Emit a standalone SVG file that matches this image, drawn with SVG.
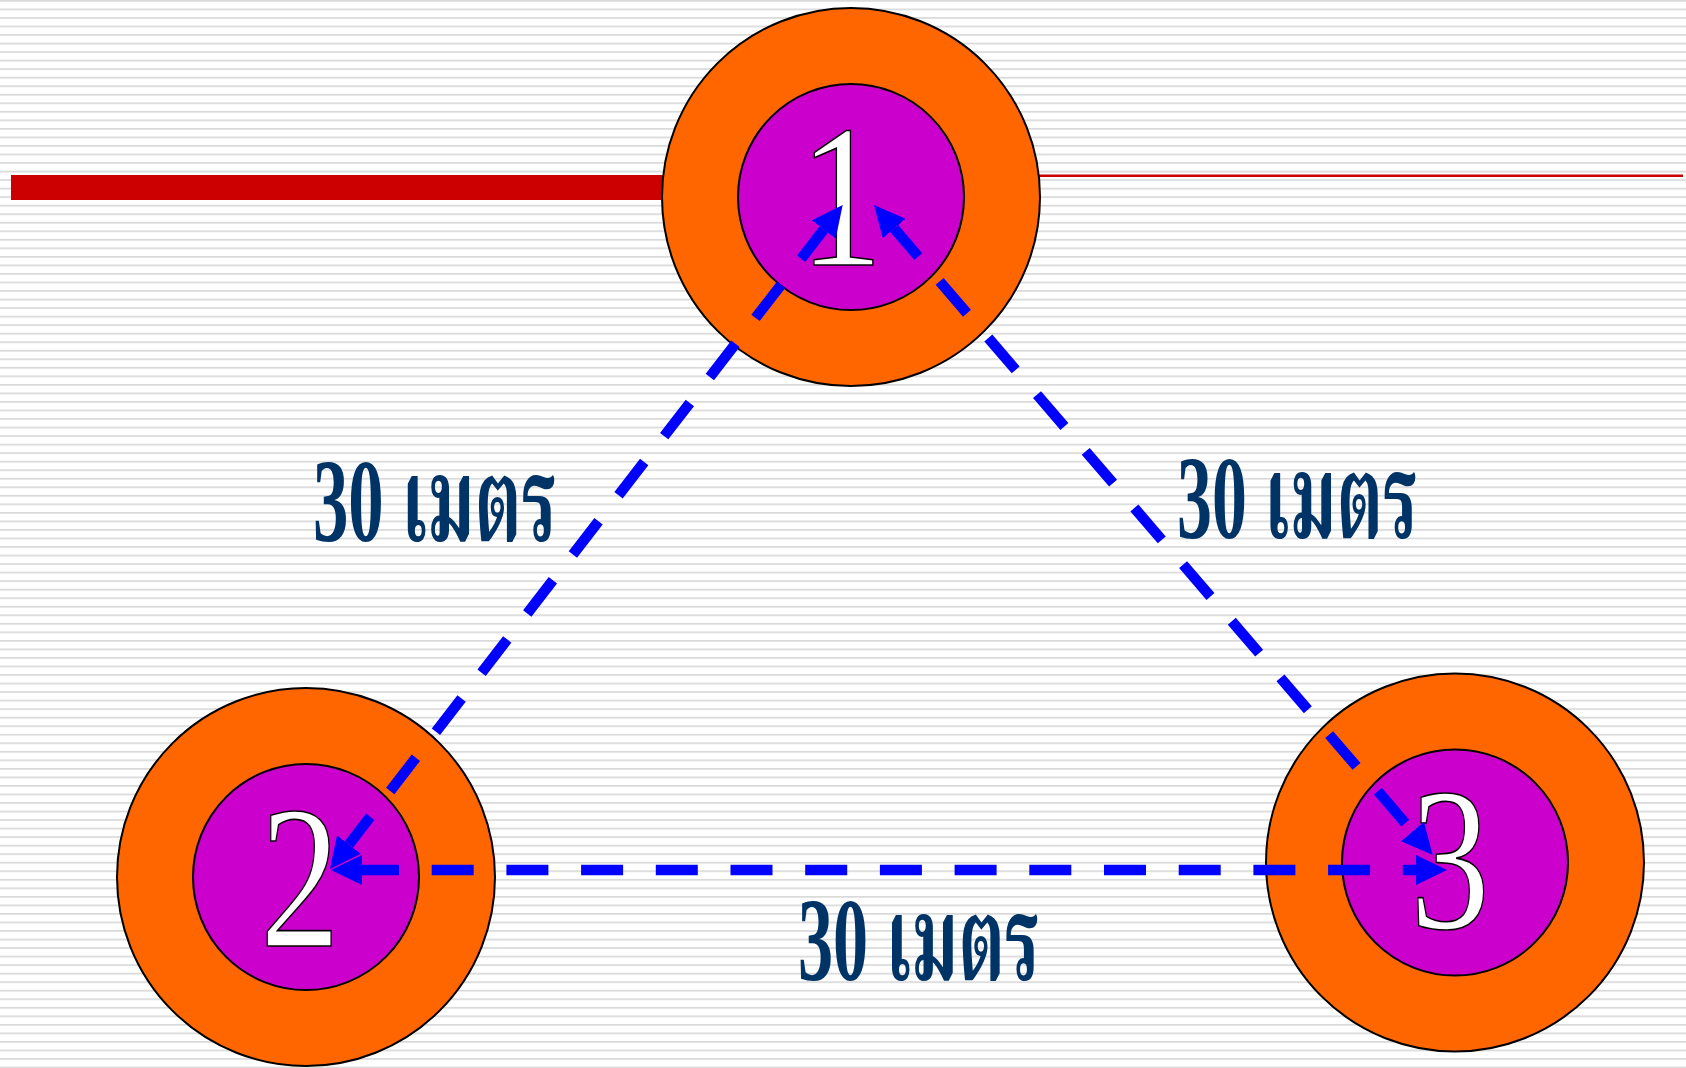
<svg xmlns="http://www.w3.org/2000/svg" width="1686" height="1068" viewBox="0 0 1686 1068">
  <defs>
    <pattern id="stripes" x="0" y="0" width="40" height="8.533" patternUnits="userSpaceOnUse">
      <rect x="0" y="0" width="40" height="1.7" fill="#d9d9d9"/>
    </pattern>
    <marker id="arrow" markerUnits="userSpaceOnUse" viewBox="0 0 31 30" markerWidth="31" markerHeight="30" refX="0" refY="15" orient="auto-start-reverse">
      <path d="M0,0 L31,15 L0,30 Z" fill="#0000ff"/>
    </marker>
  </defs>
  <style>
    .outer { fill: #ff6600; stroke: #000000; stroke-width: 2; }
    .inner { fill: #cc00cc; stroke: #000000; stroke-width: 2; }
    .num { font-family: "Times New Roman", "Liberation Serif", Tinos, serif; font-size: 204px; fill: #ffffff; stroke: #000000; stroke-width: 1.6; text-anchor: middle; }
    .conn { stroke: #0000ff; stroke-width: 10.5; fill: none; stroke-dasharray: 42 32.7; stroke-dashoffset: 5; stroke-linecap: butt; marker-start: url(#arrow); marker-end: url(#arrow); }
    .lbl { font-family: "Times New Roman", "Liberation Serif", Tinos, "Noto Serif Thai", "Noto Sans Thai", "Angsana New", "Tlwg Typo", "Norasi", "Loma", "Garuda", "Noto Sans", serif; font-weight: bold; font-size: 118px; fill: #003366; }
    .red { fill: #cc0000; }
  </style>
  <rect x="0" y="0" width="1686" height="1068" fill="#ffffff"/>
  <rect x="0" y="0" width="1686" height="1068" fill="url(#stripes)"/>
  <g id="title-bar">
    <rect class="red" x="11" y="175" width="660" height="25"/>
    <rect class="red" x="1030" y="174.5" width="653" height="2.5"/>
  </g>
  <g id="node-1">
    <circle class="outer" cx="851" cy="197" r="189"/>
    <circle class="inner" cx="851" cy="197" r="113"/>
    <text class="num" transform="translate(841 265) scale(0.82 1)" x="0" y="0">1</text>
  </g>
  <g id="node-2">
    <circle class="outer" cx="306" cy="877" r="189"/>
    <circle class="inner" cx="306" cy="877" r="113"/>
    <text class="num" transform="translate(300 946) scale(0.78 1)" x="0" y="0">2</text>
  </g>
  <g id="node-3">
    <circle class="outer" cx="1455" cy="862.5" r="189"/>
    <circle class="inner" cx="1455" cy="862.5" r="113"/>
    <text class="num" transform="translate(1450 928) scale(0.78 1)" x="0" y="0">3</text>
  </g>
  <g id="connectors">
    <line class="conn" x1="823.75" y1="229.5" x2="348.9" y2="844.5"/>
    <line class="conn" x1="894.2" y1="228.5" x2="1412.5" y2="831.5"/>
    <line class="conn" x1="362" y1="870" x2="1416" y2="870"/>
  </g>
  <g id="labels">
    <text class="lbl" x="313" y="541" textLength="244" lengthAdjust="spacingAndGlyphs">30 เมตร</text>
    <text class="lbl" x="1177" y="538" textLength="241" lengthAdjust="spacingAndGlyphs">30 เมตร</text>
    <text class="lbl" x="798" y="980" textLength="242" lengthAdjust="spacingAndGlyphs">30 เมตร</text>
  </g>
</svg>
